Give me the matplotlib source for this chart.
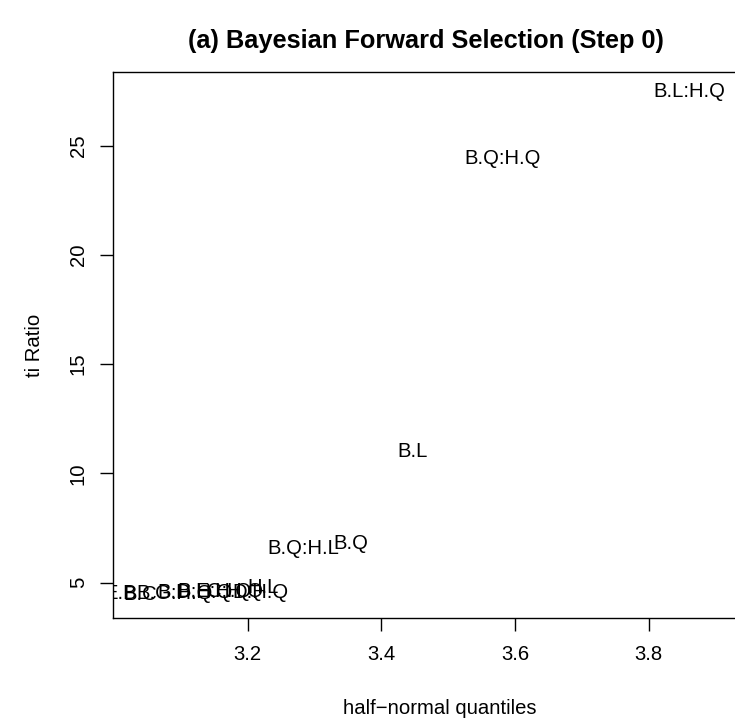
import matplotlib
matplotlib.use("Agg")
import matplotlib.pyplot as plt

plt.rcParams['font.family'] = ['Liberation Sans', 'DejaVu Sans']

labels = ["B.L:H.Q", "B.Q:H.Q", "B.L", "B.Q:H.L", "B.Q",
          "E.B", "B.C", "B.G:H.Q", "B.D:H.Q", "B.E:H.Q", "C:H.Q", "H.L", "D:H.Q"]
x_vals = [3.861, 3.582, 3.446, 3.283, 3.355,
          3.010, 3.039, 3.091, 3.121, 3.151, 3.181, 3.223, 3.219]
y_vals = [27.47, 24.42, 11.0, 6.57, 6.80,
          4.50, 4.48, 4.52, 4.55, 4.58, 4.60, 4.76, 4.55]

x_ticks = [3.2, 3.4, 3.6, 3.8]
y_ticks = [5, 10, 15, 20, 25]

W, H = 735, 728
fig = plt.figure(figsize=(W / 100, H / 100), dpi=100)
left, right, top, bottom = 113.3, 765, 72, 617.6
ax = fig.add_axes([left / W, (H - bottom) / H, (right - left) / W, (bottom - top) / H])

ax.set_xlim(2.999, 3.974)
ax.set_ylim(3.40, 28.37)

FS = 14.6
for lab, xv, yv in zip(labels, x_vals, y_vals):
    ax.text(xv, yv, lab, ha='center', va='center', fontsize=FS, clip_on=True)

ax.set_xticks(x_ticks)
ax.set_xticklabels([f"{v:.1f}" for v in x_ticks])
ax.set_yticks(y_ticks)
ax.set_yticklabels([str(v) for v in y_ticks], rotation=90, va='center')
ax.tick_params(axis='both', direction='out', length=9.4, width=1, labelsize=FS)
ax.tick_params(axis='x', pad=10)
ax.tick_params(axis='y', pad=9)
for s in ax.spines.values():
    s.set_linewidth(1)

fig.text(426 / W, 1 - 41 / H, "(a) Bayesian Forward Selection (Step 0)",
         ha='center', va='center', fontsize=18.3, fontweight='bold')
fig.text(440 / W, 1 - 708 / H, "half\u2212normal quantiles", ha='center', va='center', fontsize=FS)
fig.text(35 / W, 1 - 345 / H, "ti Ratio", ha='center', va='center', rotation=90, fontsize=FS)

fig.savefig("out.png", dpi=100)
